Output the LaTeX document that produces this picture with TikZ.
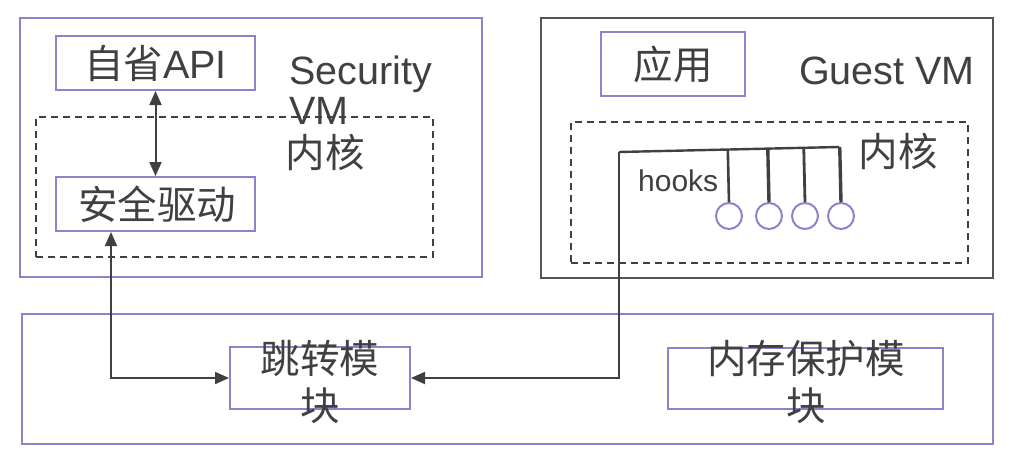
\documentclass[tikz,border=0pt]{standalone}
\usepackage{fontspec}
\setmainfont{Liberation Sans}
\newfontfamily\cjk{Noto Sans CJK SC}
\usetikzlibrary{arrows.meta,calc}
\definecolor{pur}{HTML}{8C82CE}
\definecolor{dk}{HTML}{404040}
\definecolor{gbox}{HTML}{555555}
\begin{document}
\begin{tikzpicture}[x=1pt,y=-1pt,
  pbox/.style={draw=pur,line width=2pt,inner sep=0pt,rectangle},
  gframe/.style={draw=gbox,line width=2pt,inner sep=0pt,rectangle},
  dbox/.style={draw=dk,line width=1.6pt,dash pattern=on 7pt off 5pt,inner sep=0pt,rectangle},
  txt/.style={text=dk,inner sep=0pt,font=\fontsize{39.5}{47}\selectfont},
  cjktxt/.style={text=dk,inner sep=0pt,font=\cjk\fontsize{39.5}{47}\selectfont},
  conn/.style={draw=dk,line width=2pt},
  arr/.style={conn,{Triangle[length=14pt,width=12pt]}-{Triangle[length=14pt,width=12pt]}},
  arrone/.style={conn,-{Triangle[length=14pt,width=12pt]}},
  hookc/.style={draw=pur,line width=2pt,circle,minimum size=26pt,inner sep=0pt}
]
\useasboundingbox (0,0) rectangle (1029,459);
% Security VM
\node[pbox,minimum width=462pt,minimum height=259pt] (secvm) at (251,147.5) {};
\node[dbox,minimum width=397pt,minimum height=140pt] (seck) at (234.5,187) {};
\node[pbox,minimum width=199pt,minimum height=54pt,text=dk,font=\fontsize{39.5}{47}\selectfont] (api) at (155.5,63) {{\cjk 自省}API};
\node[pbox,minimum width=199pt,minimum height=54pt] (drv) at (155.5,204) {};
\node[cjktxt] (drvt) at (157,204) {安全驱动};
\node[txt,anchor=base west] (sec1) at (289,84) {Security};
\node[txt,anchor=base west] (sec2) at (289,124) {VM};
\node[cjktxt] (seckt) at (325,152) {内核};
% Guest VM
\node[gframe,minimum width=452pt,minimum height=260pt] (gvm) at (767,148) {};
\node[dbox,minimum width=397pt,minimum height=141pt] (gk) at (769.5,192.5) {};
\node[pbox,minimum width=144pt,minimum height=64pt] (app) at (673,64) {};
\node[cjktxt] (appt) at (673,64) {应用};
\node[txt,anchor=base west] (gtitle) at (799,84) {Guest VM};
\node[cjktxt] (gkt) at (898,151) {内核};
\node[text=dk,inner sep=0pt,font=\fontsize{30}{34}\selectfont,anchor=base west] (hooks) at (638,191) {hooks};
\node[hookc] (c1) at (729,216) {};
\node[hookc] (c2) at (769,216) {};
\node[hookc] (c3) at (805,216) {};
\node[hookc] (c4) at (841,216) {};
\coordinate (hk) at (619,152);
\coordinate (hbar) at (839,147);
\draw[conn,line width=2.4pt] (hk) -- (hbar);
\draw[conn,line width=2.6pt] (c1.north) -- ($(hk)!(c1.north)!(hbar)$);
\draw[conn,line width=3.4pt] (c2.north) -- ($(hk)!(c2.north)!(hbar)$);
\draw[conn,line width=2.8pt] (c3.north) -- ($(hk)!(c3.north)!(hbar)$);
\draw[conn,line width=3.4pt] (c4.north) -- ($(hk)!(c4.north)!(hbar)$);
% bottom
\node[pbox,minimum width=971pt,minimum height=130pt] (base) at (507,379) {};
\node[pbox,minimum width=180pt,minimum height=62pt] (jump) at (320,378) {};
\node[txt,font=\cjk\fontsize{39.5}{47}\selectfont,align=center] (jumpt) at (320,382) {跳转模\\块};
\node[pbox,minimum width=275pt,minimum height=61pt] (mem) at (805.5,378.5) {};
\node[txt,font=\cjk\fontsize{39.5}{47}\selectfont,align=center] (memt) at (806,382) {内存保护模\\块};
% connectors
\draw[arr] (api.south) -- (drv.north);
\draw[arr] ([xshift=56pt]drv.south west) |- (jump.west);
\draw[arrone] (hk) |- (jump.east);
\end{tikzpicture}
\end{document}
